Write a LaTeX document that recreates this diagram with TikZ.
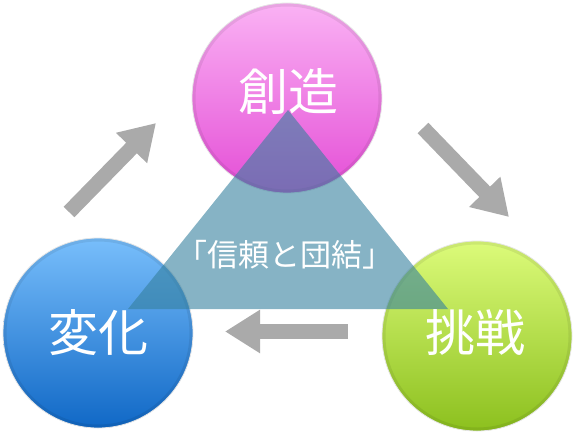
\documentclass[tikz,border=0pt]{standalone}
\usepackage{fontspec}
\newfontfamily\cjk{Noto Sans CJK JP}
\usetikzlibrary{arrows.meta}
\definecolor{magtop}{RGB}{250,178,244}
\definecolor{magbot}{RGB}{228,78,214}
\definecolor{bluetop}{RGB}{120,190,251}
\definecolor{bluebot}{RGB}{16,104,198}
\definecolor{greentop}{RGB}{220,251,122}
\definecolor{greenbot}{RGB}{140,192,30}
\definecolor{arrowgray}{RGB}{170,170,170}
\definecolor{trifill}{RGB}{53,128,158}
\tikzset{
  ball/.style={circle, minimum size=190pt, inner sep=0pt, draw=black!10, line width=0.8pt},
  rim/.style={draw=black, opacity=0.07, line width=3pt},
  cyc/.style={draw=arrowgray, line width=15pt, -{Triangle[width=41pt,length=35pt]}},
  lbl/.style={text=white, inner sep=0pt, font=\cjk\fontsize{50}{55}\selectfont},
  midlbl/.style={text=white, inner sep=0pt, font=\cjk\fontsize{31}{34}\selectfont},
  tri/.style={fill=trifill, fill opacity=0.6},
}
\begin{document}
\begin{tikzpicture}[x=1pt,y=-1pt]
\useasboundingbox (0,0) rectangle (575,431);
% circles
\node[ball, top color=magtop, bottom color=magbot] (top) at (287,98) {};
\node[ball, top color=bluetop, bottom color=bluebot] (left) at (98,333) {};
\node[ball, top color=greentop, bottom color=greenbot] (right) at (477,336) {};
\draw[rim] (top.center) circle (93pt);
\draw[rim] (left.center) circle (93pt);
\draw[rim] (right.center) circle (93pt);
% arrows
\coordinate (a1s) at (69,212);
\coordinate (a1e) at (156,123);
\coordinate (a2s) at (423,128);
\coordinate (a2e) at (509,217);
\coordinate (a3s) at (348,331.5);
\coordinate (a3e) at (225,331.5);
\draw[cyc] (a1s) -- (a1e);
\draw[cyc] (a2s) -- (a2e);
\draw[cyc] (a3s) -- (a3e);
% triangle
\coordinate (ta) at (288,110);
\coordinate (tb) at (128,309);
\coordinate (tc) at (448,309);
\fill[tri] (ta) -- (tb) -- (tc) -- cycle;
% labels
\node[lbl] (toplbl) at (288,92) {創造};
\node[lbl] (leftlbl) at (98,333) {変化};
\node[lbl] (rightlbl) at (475,333) {挑戦};
\node[midlbl] (mid) at (285,255) {「信頼と団結」};
\end{tikzpicture}
\end{document}
